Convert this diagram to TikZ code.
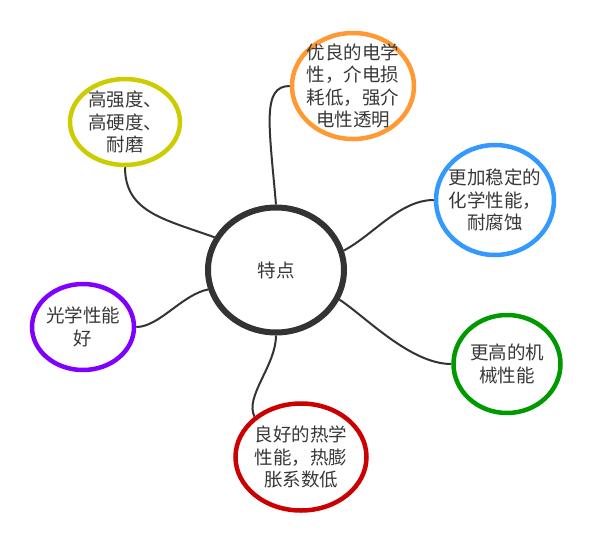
\documentclass[tikz,border=0pt]{standalone}
\usepackage{fontspec}
\newfontfamily\cjk{Noto Sans CJK SC}
\usetikzlibrary{shapes.geometric}
\definecolor{ringgray}{RGB}{51,51,51}
\definecolor{textgray}{RGB}{56,56,56}
\definecolor{ryellow}{RGB}{204,204,0}
\definecolor{rorange}{RGB}{255,153,51}
\definecolor{rblue}{RGB}{51,153,255}
\definecolor{rpurple}{RGB}{127,0,255}
\definecolor{rgreen}{RGB}{0,153,0}
\definecolor{rred}{RGB}{204,0,0}
\tikzset{
  bubble/.style={ellipse, draw, line width=4.5pt, inner sep=-8pt, align=center, text=textgray, font=\cjk\fontsize{18.5}{22.3}\selectfont},
  hub/.style={bubble, draw=ringgray, line width=6pt, minimum width=136pt, minimum height=125pt},
  link/.style={draw=ringgray, line width=2pt},
}

\begin{document}
\begin{tikzpicture}[x=1pt, y=-1pt]
    \useasboundingbox (0,0) rectangle (589,541);
    \node[hub] (core) at (276,270) {特点};
    \node[bubble, draw=ryellow, minimum width=110pt, minimum height=86pt] (hard) at (125,122) {高强度、\\高硬度、\\耐磨};
    \node[bubble, draw=rorange, minimum width=122pt, minimum height=106pt] (elec) at (353,86) {优良的电学\\性，介电损\\耗低，强介\\电性透明};
    \node[bubble, draw=rblue, minimum width=118pt, minimum height=110pt] (chem) at (495,200) {更加稳定的\\化学性能，\\耐腐蚀};
    \node[bubble, draw=rpurple, minimum width=102pt, minimum height=86pt] (opt) at (83,327) {光学性能\\好};
    \node[bubble, draw=rgreen, minimum width=107pt, minimum height=98pt] (mech) at (507,364) {更高的机\\械性能};
    \node[bubble, draw=rred, minimum width=131pt, minimum height=107pt] (therm) at (301,457) {良好的热学\\性能，热膨\\胀系数低};
    \draw[link] (hard.south) .. controls +(0,45) and +(-50,-18) .. (core.152);
    \draw[link] (elec.west) .. controls +(-28,0) and +(-7,-80) .. (core.north);
    \draw[link] (chem.west) .. controls +(-34,0) and +(30,-16) .. (core.16);
    \draw[link] (opt.east) .. controls +(23,0) and +(-26,5) .. (core.196);
    \draw[link] (core.335) .. controls +(26,17) and +(-41,0) .. (mech.west);
    \draw[link] (core.south) .. controls +(0,30) and +(-10,-20) .. (therm.139);
  \end{tikzpicture}
\end{document}
